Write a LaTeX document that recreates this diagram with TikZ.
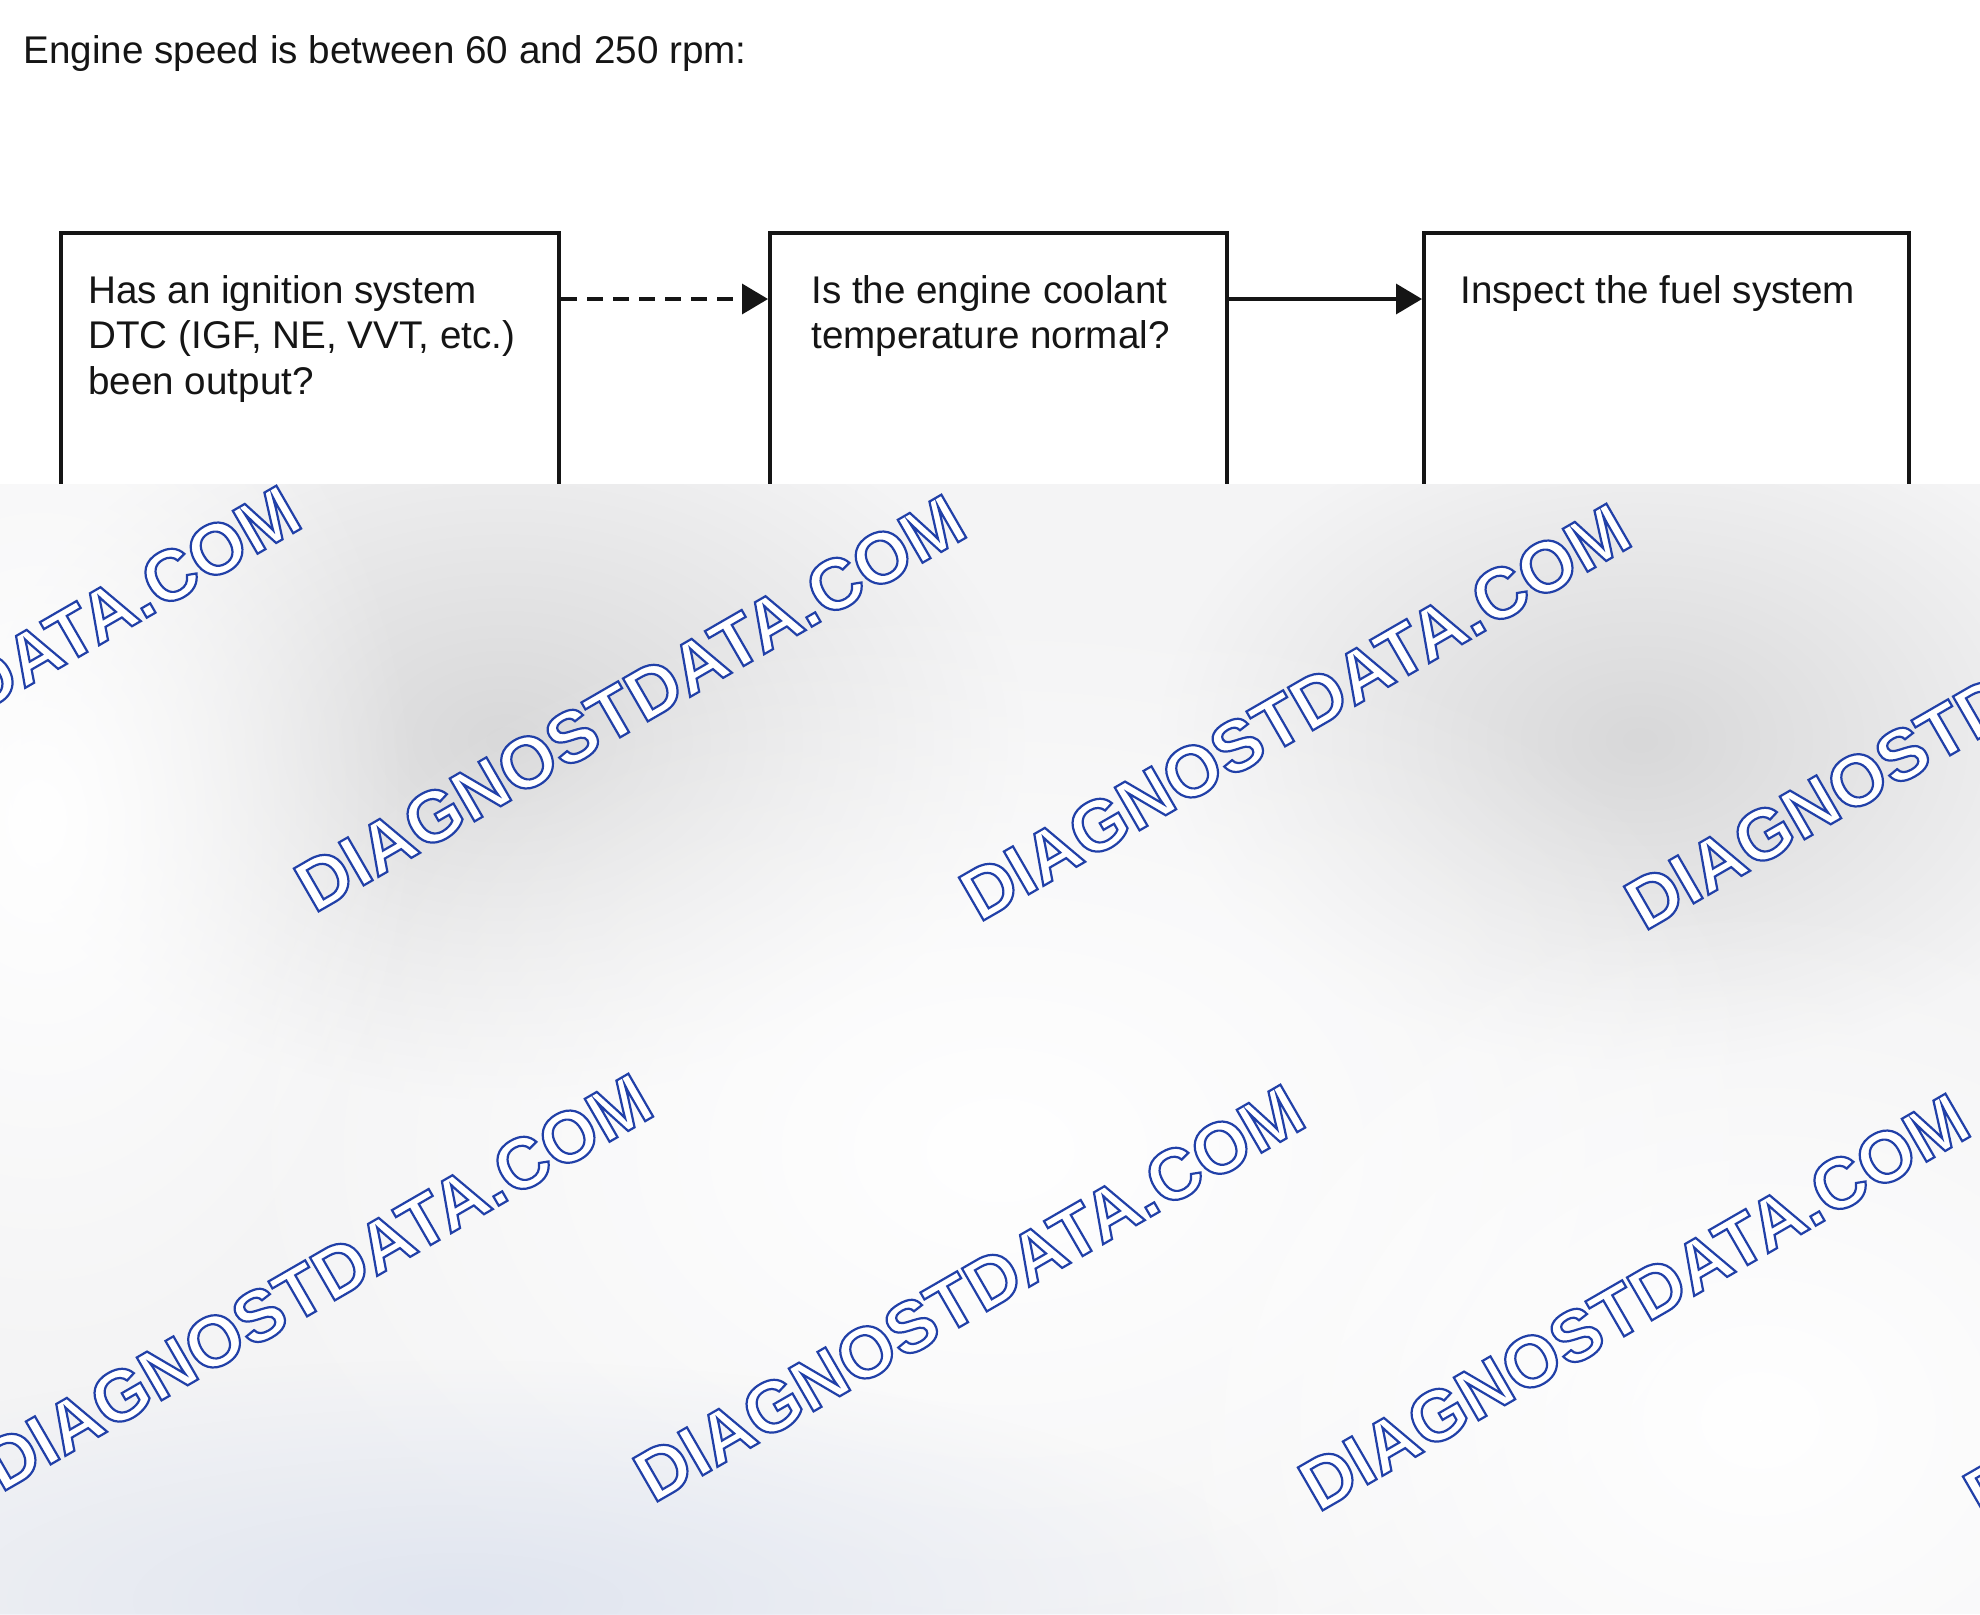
\documentclass[tikz,border=0pt]{standalone}
\usepackage{fontspec}
\setmainfont{Liberation Sans}
\usetikzlibrary{arrows.meta,calc,fadings}
\definecolor{ink}{HTML}{151515}
\definecolor{ovbase}{HTML}{F4F4F5}
\definecolor{blobgray}{HTML}{D8D8D9}
\definecolor{blobblue}{HTML}{E0E5F0}
\tikzfading[name=softblob, inner color=transparent!0, outer color=transparent!100]
\tikzset{
  box/.style={draw=ink, line width=2pt, inner sep=0pt, minimum height=200pt, anchor=north west},
  txt/.style={text=ink, font=\fontsize{19.3}{22.75}\selectfont, inner sep=0pt, align=left, anchor=base west},
  conn/.style={draw=ink, line width=1.75pt, -{Triangle[length=13pt,width=15pt]}},
  wm/.style={font=\fontsize{36}{40}\selectfont\bfseries, inner sep=0pt, rotate=30, text=white},
  blob/.style={path fading=softblob, fit fading=true},
}
% white letters stroked with a thin blue outline
\newcommand\outlined[1]{\special{pdf:literal direct 0.13 0.25 0.66 RG 1.1 w 2 Tr}#1\special{pdf:literal direct 0 Tr}}
\newcommand\wmark[2]{\node[wm] (#1) at (#2) {\outlined{DIAGNOSTDATA.COM}};}
\begin{document}
\begin{tikzpicture}[x=0.5pt, y=-0.5pt]
\useasboundingbox (0,0) rectangle (1980,1614);
\fill[white] (0,0) rectangle (1980,1614);
% title
\node[txt] (title) at (23,63) {Engine speed is between 60 and 250 rpm:};
% boxes
\node[box, minimum width=249pt] (b1) at (59,231) {};
\node[box, minimum width=228.5pt] (b2) at (768,231) {};
\node[box, minimum width=242.5pt] (b3) at (1422,231) {};
% multi-line texts: base anchor is the last line's baseline
\node[txt] (t1) at (88,394) {Has an ignition system\\DTC (IGF, NE, VVT, etc.)\\been output?};
\node[txt] (t2) at (811,348.5) {Is the engine coolant\\temperature normal?};
\node[txt] (t3) at (1460,303) {Inspect the fuel system};
% connectors
\coordinate (lvl) at (0,299);
\draw[conn, dash pattern=on 8pt off 5pt] (b1.east |- lvl) -- (b2.west |- lvl);
\draw[conn] (b2.east |- lvl) -- (b3.west |- lvl);
% overlay
\begin{scope}
\clip (0,484) rectangle (1980,1614);
\fill[ovbase] (0,484) rectangle (1980,1614);
\fill[blobgray, blob] (505,740) ellipse (520 and 360);
\fill[blobgray, blob] (1640,740) ellipse (480 and 330);
\fill[white, blob] (1000,1150) ellipse (800 and 560);
\fill[white, blob] (40,820) ellipse (380 and 560);
\fill[white, blob] (1760,1420) ellipse (640 and 520);
\fill[blobblue, blob] (460,1600) ellipse (820 and 240);
\wmark{wa}{-35,694}
\wmark{wb}{630,703}
\wmark{wc}{1295,712}
\wmark{wd}{1960,721}
\wmark{we}{317,1282}
\wmark{wf}{969,1293}
\wmark{wg}{1634,1302}
\wmark{wh}{2299,1311}
\end{scope}
\end{tikzpicture}
\end{document}
